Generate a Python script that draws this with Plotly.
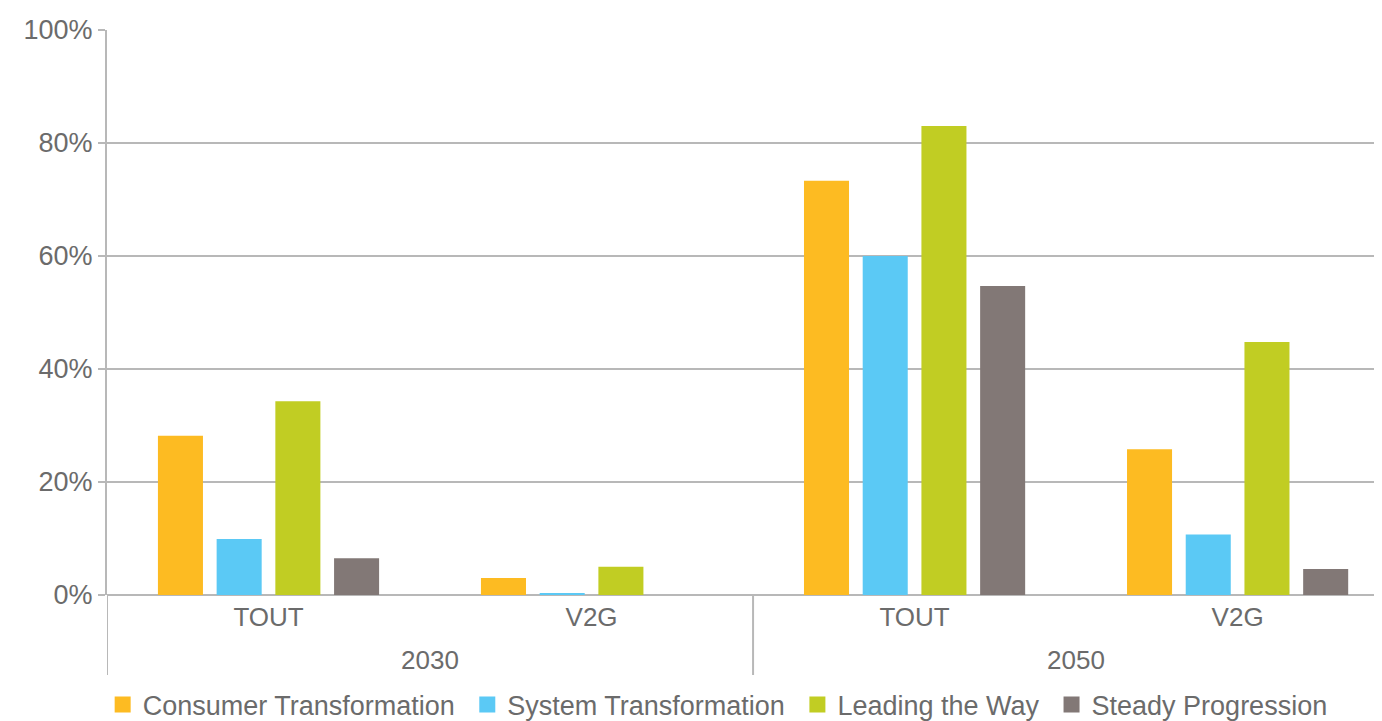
import plotly.graph_objects as go

years = ["2030", "2030", "2050", "2050"]
types = ["TOUT", "V2G", "TOUT", "V2G"]
series = ["Consumer Transformation", "System Transformation", "Leading the Way", "Steady Progression"]
colors = ["#FDBB22", "#5BC9F5", "#C1CD23", "#827876"]
values = {
    "Consumer Transformation": [28.2, 3.0, 73.3, 25.8],
    "System Transformation": [9.9, 0.35, 60.0, 10.7],
    "Leading the Way": [34.3, 5.0, 83.0, 44.8],
    "Steady Progression": [6.5, 0.0, 54.7, 4.6],
}
y_ticks = [0, 20, 40, 60, 80, 100]

FONT = "Liberation Sans, Arial, sans-serif"
GREY = "#6b6b6b"
LINE = "#b8b8b8"

cats = [f"{y} {t}" for y, t in zip(years, types)]

fig = go.Figure()
for name, col in zip(series, colors):
    fig.add_trace(go.Bar(x=cats, y=values[name], name=name, showlegend=False,
                         marker=dict(color=col, line=dict(width=0))))
# legend entries with larger square swatches
for i, (name, col) in enumerate(zip(series, colors)):
    label = name + ("\u00a0" if i < len(series) - 1 else "")
    fig.add_trace(go.Scatter(x=[None], y=[None], mode="markers", name=label,
                             marker=dict(symbol="square", size=16, color=col)))

# year group labels and dividers, positioned on the category axis
year_groups = []
for i, y in enumerate(years):
    if not year_groups or year_groups[-1][0] != y:
        year_groups.append([y, i, i])
    else:
        year_groups[-1][2] = i
for y, i0, i1 in year_groups:
    fig.add_annotation(x=(i0 + i1) / 2, xref="x", y=0, yref="paper", yshift=-65,
                       text=y, showarrow=False, yanchor="middle",
                       font=dict(size=26, color=GREY, family=FONT))
    fig.add_shape(type="line", xref="x", yref="paper", x0=i0 - 0.5, x1=i0 - 0.5,
                  y0=0, y1=-80 / 565, line=dict(color=LINE, width=2))

# page body has an 8px margin; the figure is sized/offset to compensate
fig.update_layout(
    width=1374, height=713,
    margin=dict(l=99, r=0, t=22, b=126, autoexpand=False),
    paper_bgcolor="white", plot_bgcolor="white",
    barmode="group", bargap=0.273, bargroupgap=0.233,
    font=dict(family=FONT, size=26, color=GREY),
    showlegend=True,
    legend=dict(orientation="h", x=-0.0034, xanchor="left", y=-0.1947, yanchor="middle",
                font=dict(size=27, color=GREY),
                traceorder="normal", itemwidth=30),
)
fig.update_xaxes(
    type="category", tickvals=cats, ticktext=types, range=[-0.5, 3.447],
    showgrid=False, showline=False, automargin=False,
    tickfont=dict(size=26, color=GREY), ticks="", ticklabelstandoff=4,
)
fig.update_yaxes(
    range=[0, 100], tickvals=y_ticks, ticktext=[f"{v}%" for v in y_ticks],
    automargin=False,
    showgrid=True, gridcolor=LINE, gridwidth=2,
    showline=True, linecolor=LINE, linewidth=2,
    ticks="outside", ticklen=7, tickcolor=LINE, tickwidth=2,
    zeroline=True, zerolinecolor=LINE, zerolinewidth=2,
    tickfont=dict(size=27, color=GREY),
)

fig.write_html("out.html")
